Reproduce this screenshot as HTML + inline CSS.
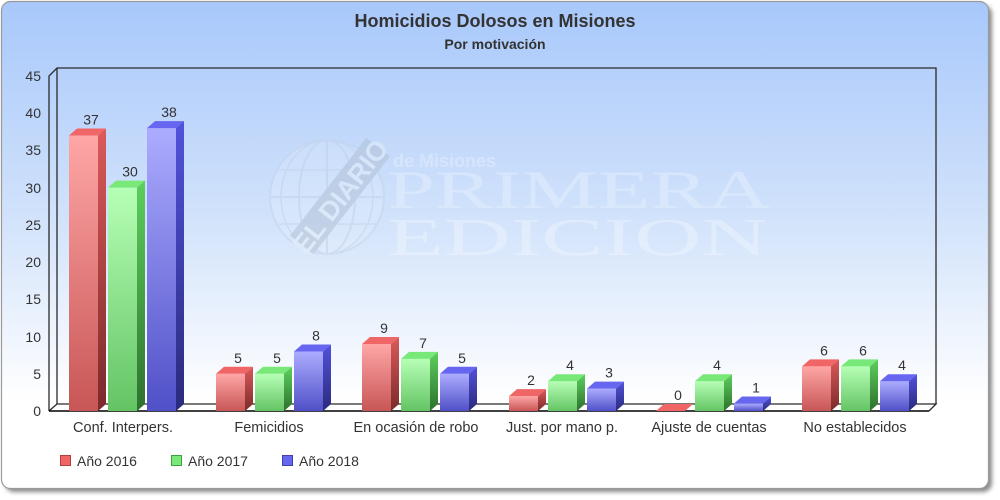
<!DOCTYPE html>
<html><head><meta charset="utf-8"><style>
html,body{margin:0;padding:0;background:#fff;width:1000px;height:500px;overflow:hidden}
svg{display:block}
text{font-family:"Liberation Sans",sans-serif}
</style></head><body>
<svg width="1000" height="500" viewBox="0 0 1000 500" xmlns="http://www.w3.org/2000/svg">
<defs>
<linearGradient id="bg" x1="0" y1="0" x2="0" y2="1">
<stop offset="0" stop-color="#a8c8fb"/><stop offset="0.45" stop-color="#d2e3fb"/><stop offset="0.82" stop-color="#ffffff"/><stop offset="1" stop-color="#ffffff"/>
</linearGradient>
<filter id="blur" x="-5%" y="-5%" width="110%" height="110%"><feGaussianBlur stdDeviation="2"/></filter>
<linearGradient id="rf" x1="0" y1="0" x2="0" y2="1"><stop offset="0" stop-color="#ffa6a6"/><stop offset="1" stop-color="#c85656"/></linearGradient>
<linearGradient id="rs" x1="0" y1="0" x2="0" y2="1"><stop offset="0" stop-color="#dc5a5a"/><stop offset="1" stop-color="#7a2a2a"/></linearGradient>
<linearGradient id="gf" x1="0" y1="0" x2="0" y2="1"><stop offset="0" stop-color="#b6ffb6"/><stop offset="1" stop-color="#64c464"/></linearGradient>
<linearGradient id="gs" x1="0" y1="0" x2="0" y2="1"><stop offset="0" stop-color="#5cd05c"/><stop offset="1" stop-color="#2e702e"/></linearGradient>
<linearGradient id="bf" x1="0" y1="0" x2="0" y2="1"><stop offset="0" stop-color="#acacff"/><stop offset="1" stop-color="#5050c8"/></linearGradient>
<linearGradient id="bs" x1="0" y1="0" x2="0" y2="1"><stop offset="0" stop-color="#5252dc"/><stop offset="1" stop-color="#2a2a7c"/></linearGradient>
</defs>

<!-- card -->
<rect x="5" y="5" width="987" height="487" rx="9" fill="#8a8a8a" filter="url(#blur)"/>
<rect x="1.5" y="1.5" width="987" height="487" rx="9" fill="url(#bg)" stroke="#9a9a9a" stroke-width="1.2"/>

<!-- watermark -->
<g opacity="0.5">
<circle cx="327" cy="197" r="57" fill="#ffffff" fill-opacity="0.25" stroke="#c4d4e8" stroke-width="2"/>
<ellipse cx="327" cy="197" rx="28" ry="57" fill="none" stroke="#c4d4e8" stroke-width="2"/>
<ellipse cx="327" cy="197" rx="46" ry="57" fill="none" stroke="#c4d4e8" stroke-width="1.5"/>
<line x1="327" y1="140" x2="327" y2="254" stroke="#c4d4e8" stroke-width="2"/>
<line x1="270" y1="197" x2="384" y2="197" stroke="#c4d4e8" stroke-width="2"/>
<line x1="276" y1="170" x2="378" y2="170" stroke="#c4d4e8" stroke-width="1.5"/>
<line x1="276" y1="224" x2="378" y2="224" stroke="#c4d4e8" stroke-width="1.5"/>
<g transform="translate(340,196) rotate(-52)">
<rect x="-62" y="-15" width="124" height="30" fill="#b0bfd2"/>
<text x="0" y="10" text-anchor="middle" font-size="27" font-weight="bold" fill="#e6eef8">EL DIARIO</text>
</g>
<text x="393" y="167" font-size="18" font-weight="bold" fill="#e4eefc">de Misiones</text>
<text x="387" y="208" style="font-family:'Liberation Serif',serif;font-size:54px" fill="#e6f0fd" textLength="383" lengthAdjust="spacingAndGlyphs">PRIMERA</text>
<text x="387" y="255" style="font-family:'Liberation Serif',serif;font-size:53px" fill="#eef5fe" textLength="381" lengthAdjust="spacingAndGlyphs">EDICION</text>
</g>

<!-- title -->
<text x="495" y="27" text-anchor="middle" font-size="18" font-weight="bold" fill="#333">Homicidios Dolosos en Misiones</text>
<text x="495" y="49" text-anchor="middle" font-size="14" font-weight="bold" fill="#333">Por motivación</text>

<!-- plot floor & frame -->
<polygon points="49,411 929,411 936,404 57,404" fill="#ffffff"/>
<g fill="none" stroke="#2a2a2a" stroke-width="1.3">
<polyline points="49,411 49,76 57,68 936,68 936,404"/>
<line x1="57" y1="68" x2="57" y2="404"/>
<polyline points="49,411 57,404 936,404 929,411"/>
</g>
<line x1="49" y1="411" x2="929" y2="411" stroke="#000" stroke-width="1.6"/>

<!-- y ticks -->
<g font-size="14" fill="#333" text-anchor="end">
<text x="41" y="416">0</text>
<text x="41" y="379">5</text>
<text x="41" y="342">10</text>
<text x="41" y="304">15</text>
<text x="41" y="267">20</text>
<text x="41" y="230">25</text>
<text x="41" y="193">30</text>
<text x="41" y="155">35</text>
<text x="41" y="118">40</text>
<text x="41" y="81">45</text>
</g>

<!-- bars -->
<g transform="translate(69,0)"><rect x="0" y="135.56" width="29" height="275.44" fill="url(#rf)"/><polygon points="0,135.56 29,135.56 37,128.56 8,128.56" fill="#f06666"/><polygon points="29,135.56 37,128.56 37,404 29,411" fill="url(#rs)"/></g>
<g transform="translate(108,0)"><rect x="0" y="187.67" width="29" height="223.33" fill="url(#gf)"/><polygon points="0,187.67 29,187.67 37,180.67 8,180.67" fill="#78e878"/><polygon points="29,187.67 37,180.67 37,404 29,411" fill="url(#gs)"/></g>
<g transform="translate(147,0)"><rect x="0" y="128.11" width="29" height="282.89" fill="url(#bf)"/><polygon points="0,128.11 29,128.11 37,121.11 8,121.11" fill="#6666f0"/><polygon points="29,128.11 37,121.11 37,404 29,411" fill="url(#bs)"/></g>
<g transform="translate(216,0)"><rect x="0" y="373.78" width="29" height="37.22" fill="url(#rf)"/><polygon points="0,373.78 29,373.78 37,366.78 8,366.78" fill="#f06666"/><polygon points="29,373.78 37,366.78 37,404 29,411" fill="url(#rs)"/></g>
<g transform="translate(255,0)"><rect x="0" y="373.78" width="29" height="37.22" fill="url(#gf)"/><polygon points="0,373.78 29,373.78 37,366.78 8,366.78" fill="#78e878"/><polygon points="29,373.78 37,366.78 37,404 29,411" fill="url(#gs)"/></g>
<g transform="translate(294,0)"><rect x="0" y="351.44" width="29" height="59.56" fill="url(#bf)"/><polygon points="0,351.44 29,351.44 37,344.44 8,344.44" fill="#6666f0"/><polygon points="29,351.44 37,344.44 37,404 29,411" fill="url(#bs)"/></g>
<g transform="translate(362,0)"><rect x="0" y="344" width="29" height="67" fill="url(#rf)"/><polygon points="0,344 29,344 37,337 8,337" fill="#f06666"/><polygon points="29,344 37,337 37,404 29,411" fill="url(#rs)"/></g>
<g transform="translate(401,0)"><rect x="0" y="358.89" width="29" height="52.11" fill="url(#gf)"/><polygon points="0,358.89 29,358.89 37,351.89 8,351.89" fill="#78e878"/><polygon points="29,358.89 37,351.89 37,404 29,411" fill="url(#gs)"/></g>
<g transform="translate(440,0)"><rect x="0" y="373.78" width="29" height="37.22" fill="url(#bf)"/><polygon points="0,373.78 29,373.78 37,366.78 8,366.78" fill="#6666f0"/><polygon points="29,373.78 37,366.78 37,404 29,411" fill="url(#bs)"/></g>
<g transform="translate(509,0)"><rect x="0" y="396.11" width="29" height="14.89" fill="url(#rf)"/><polygon points="0,396.11 29,396.11 37,389.11 8,389.11" fill="#f06666"/><polygon points="29,396.11 37,389.11 37,404 29,411" fill="url(#rs)"/></g>
<g transform="translate(548,0)"><rect x="0" y="381.22" width="29" height="29.78" fill="url(#gf)"/><polygon points="0,381.22 29,381.22 37,374.22 8,374.22" fill="#78e878"/><polygon points="29,381.22 37,374.22 37,404 29,411" fill="url(#gs)"/></g>
<g transform="translate(587,0)"><rect x="0" y="388.67" width="29" height="22.33" fill="url(#bf)"/><polygon points="0,388.67 29,388.67 37,381.67 8,381.67" fill="#6666f0"/><polygon points="29,388.67 37,381.67 37,404 29,411" fill="url(#bs)"/></g>
<g transform="translate(656,0)"><polygon points="0,411 29,411 37,404 8,404" fill="#f06666"/></g>
<g transform="translate(695,0)"><rect x="0" y="381.22" width="29" height="29.78" fill="url(#gf)"/><polygon points="0,381.22 29,381.22 37,374.22 8,374.22" fill="#78e878"/><polygon points="29,381.22 37,374.22 37,404 29,411" fill="url(#gs)"/></g>
<g transform="translate(734,0)"><rect x="0" y="403.56" width="29" height="7.44" fill="url(#bf)"/><polygon points="0,403.56 29,403.56 37,396.56 8,396.56" fill="#6666f0"/><polygon points="29,403.56 37,396.56 37,404 29,411" fill="url(#bs)"/></g>
<g transform="translate(802,0)"><rect x="0" y="366.33" width="29" height="44.67" fill="url(#rf)"/><polygon points="0,366.33 29,366.33 37,359.33 8,359.33" fill="#f06666"/><polygon points="29,366.33 37,359.33 37,404 29,411" fill="url(#rs)"/></g>
<g transform="translate(841,0)"><rect x="0" y="366.33" width="29" height="44.67" fill="url(#gf)"/><polygon points="0,366.33 29,366.33 37,359.33 8,359.33" fill="#78e878"/><polygon points="29,366.33 37,359.33 37,404 29,411" fill="url(#gs)"/></g>
<g transform="translate(880,0)"><rect x="0" y="381.22" width="29" height="29.78" fill="url(#bf)"/><polygon points="0,381.22 29,381.22 37,374.22 8,374.22" fill="#6666f0"/><polygon points="29,381.22 37,374.22 37,404 29,411" fill="url(#bs)"/></g>

<!-- value labels -->
<g font-size="14" fill="#333" text-anchor="middle">
<text x="91" y="124.6">37</text>
<text x="130" y="176.7">30</text>
<text x="169" y="117.1">38</text>
<text x="238" y="362.8">5</text>
<text x="277" y="362.8">5</text>
<text x="316" y="340.4">8</text>
<text x="384" y="333">9</text>
<text x="423" y="347.9">7</text>
<text x="462" y="362.8">5</text>
<text x="531" y="385.1">2</text>
<text x="570" y="370.2">4</text>
<text x="609" y="377.7">3</text>
<text x="678" y="400">0</text>
<text x="717" y="370.2">4</text>
<text x="756" y="392.6">1</text>
<text x="824" y="355.3">6</text>
<text x="863" y="355.3">6</text>
<text x="902" y="370.2">4</text>
</g>

<!-- category labels -->
<g font-size="14.5" fill="#333" text-anchor="middle">
<text x="123" y="432">Conf. Interpers.</text>
<text x="269" y="432">Femicidios</text>
<text x="416" y="432">En ocasión de robo</text>
<text x="562" y="432">Just. por mano p.</text>
<text x="709" y="432">Ajuste de cuentas</text>
<text x="855" y="432">No establecidos</text>
</g>

<!-- legend -->
<rect x="60.5" y="455.5" width="10" height="10" fill="#f06666" stroke="#b04040" stroke-width="1"/>
<rect x="171.5" y="455.5" width="10" height="10" fill="#78e878" stroke="#40a040" stroke-width="1"/>
<rect x="282.5" y="455.5" width="10" height="10" fill="#6666f0" stroke="#4040b0" stroke-width="1"/>
<g font-size="14" fill="#333">
<text x="77" y="466">Año 2016</text>
<text x="188" y="466">Año 2017</text>
<text x="299" y="466">Año 2018</text>
</g>
</svg>
</body></html>
